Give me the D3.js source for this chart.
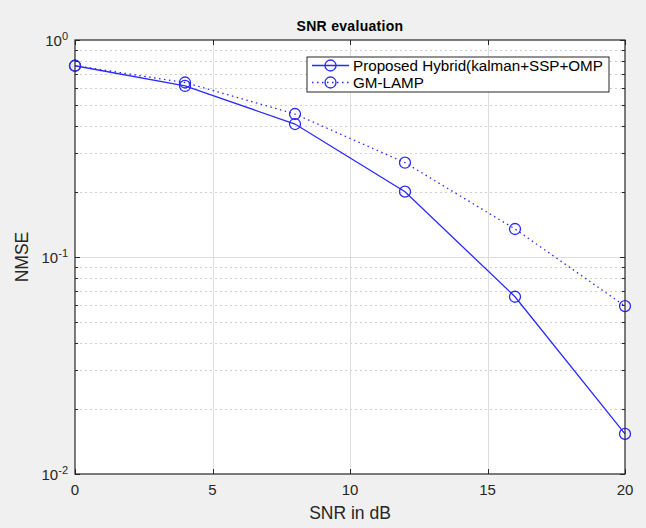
<!DOCTYPE html>
<html>
<head>
<meta charset="utf-8">
<script src="https://cdn.jsdelivr.net/npm/d3@7"></script>
<style>
  body { margin: 0; background: #f0f0f0; }
  svg { display: block; font-family: "Liberation Sans", Arial, Helvetica, sans-serif; }
</style>
</head>
<body>
<div id="chart"></div>
<script>
// data
const snr = [0, 4, 8, 12, 16, 20];
const hybrid = [0.761, 0.614, 0.410, 0.200, 0.0656, 0.0153];
const gmLamp = [0.761, 0.637, 0.456, 0.272, 0.1346, 0.0594];
const seriesNames = ['Proposed Hybrid(kalman+SSP+OMP', 'GM-LAMP'];
const xTicks = [0, 5, 10, 15, 20];
const yDecades = [-2, -1, 0];

const width = 646, height = 528;
const margin = { left: 75, right: 21, top: 40, bottom: 54 };

const svg = d3.select('#chart').append('svg')
    .attr('width', width)
    .attr('height', height);

svg.append('rect').attr('width', width).attr('height', height).attr('fill', '#f0f0f0');

const x = d3.scaleLinear().domain([0, 20]).range([margin.left, width - margin.right]);
const y = d3.scaleLog().domain([0.01, 1]).range([height - margin.bottom, margin.top]);

const x0 = x.range()[0], x1 = x.range()[1];
const y0 = y.range()[0], y1 = y.range()[1];

svg.append('rect')
    .attr('x', x0).attr('y', y1)
    .attr('width', x1 - x0).attr('height', y0 - y1)
    .attr('fill', '#fff');

// minor values for log axis
const minor = [];
for (let d = -2; d < 0; d++) {
    for (let m = 2; m <= 9; m++) minor.push(m * Math.pow(10, d));
}
const major = yDecades.map(d => Math.pow(10, d));

const grid = svg.append('g');
grid.selectAll('.minor').data(minor).join('line')
    .attr('x1', x0).attr('x2', x1)
    .attr('y1', d => Math.round(y(d)) + 0.5).attr('y2', d => Math.round(y(d)) + 0.5)
    .attr('stroke', '#cfcfcf').attr('stroke-dasharray', '2,3');
grid.selectAll('.major').data(major.slice(1, -1)).join('line')
    .attr('x1', x0).attr('x2', x1)
    .attr('y1', d => Math.round(y(d)) + 0.5).attr('y2', d => Math.round(y(d)) + 0.5)
    .attr('stroke', '#dedede');
grid.selectAll('.vx').data(xTicks.slice(1, -1)).join('line')
    .attr('x1', d => Math.round(x(d)) + 0.5).attr('x2', d => Math.round(x(d)) + 0.5)
    .attr('y1', y1).attr('y2', y0)
    .attr('stroke', '#dedede');

// series
const line = d3.line().x((d, i) => x(snr[i])).y(d => y(d));
const blue = '#2a2aff';

svg.append('path').datum(gmLamp)
    .attr('d', line).attr('fill', 'none')
    .attr('stroke', blue).attr('stroke-width', 1.3)
    .attr('stroke-dasharray', '1.5,3.5');
svg.append('path').datum(hybrid)
    .attr('d', line).attr('fill', 'none')
    .attr('stroke', blue).attr('stroke-width', 1.3);

[hybrid, gmLamp].forEach(s => {
    svg.append('g').selectAll('circle').data(s).join('circle')
        .attr('cx', (d, i) => x(snr[i])).attr('cy', d => y(d))
        .attr('r', 5.5).attr('fill', 'none')
        .attr('stroke', blue).attr('stroke-width', 1.3);
});

// axes box and ticks
const axisColor = '#262626';
const ticks = svg.append('g').attr('stroke', axisColor);
xTicks.forEach(t => {
    const px = Math.round(x(t)) + 0.5;
    ticks.append('line').attr('x1', px).attr('x2', px).attr('y1', y0).attr('y2', y0 - 5);
    ticks.append('line').attr('x1', px).attr('x2', px).attr('y1', y1).attr('y2', y1 + 5);
});
major.forEach(t => {
    const py = Math.round(y(t)) + 0.5;
    ticks.append('line').attr('x1', x0).attr('x2', x0 + 5).attr('y1', py).attr('y2', py);
    ticks.append('line').attr('x1', x1).attr('x2', x1 - 5).attr('y1', py).attr('y2', py);
});
minor.forEach(t => {
    const py = Math.round(y(t)) + 0.5;
    ticks.append('line').attr('x1', x0).attr('x2', x0 + 3).attr('y1', py).attr('y2', py);
    ticks.append('line').attr('x1', x1).attr('x2', x1 - 3).attr('y1', py).attr('y2', py);
});

svg.append('rect')
    .attr('x', x0).attr('y', y1)
    .attr('width', x1 - x0).attr('height', y0 - y1)
    .attr('fill', 'none').attr('stroke', axisColor).attr('stroke-width', 1.2);

// tick labels
svg.append('g').selectAll('text').data(xTicks).join('text')
    .attr('x', d => x(d)).attr('y', y0 + 21)
    .attr('text-anchor', 'middle')
    .attr('font-size', 15).attr('fill', axisColor)
    .text(d => d);

const yl = svg.append('g').selectAll('text').data(yDecades).join('text')
    .attr('x', x0 - 7).attr('y', d => y(Math.pow(10, d)) + 6)
    .attr('text-anchor', 'end')
    .attr('font-size', 15).attr('fill', axisColor);
yl.append('tspan').text('10');
yl.append('tspan').attr('dy', -6).attr('font-size', 11).text(d => d);

// titles
svg.append('text')
    .attr('x', (x0 + x1) / 2).attr('y', 31)
    .attr('text-anchor', 'middle')
    .attr('font-size', 14).attr('font-weight', 'bold').attr('fill', '#000')
    .attr('letter-spacing', 0.3)
    .text('SNR evaluation');

svg.append('text')
    .attr('x', (x0 + x1) / 2).attr('y', y0 + 45)
    .attr('text-anchor', 'middle')
    .attr('font-size', 17.5).attr('fill', axisColor)
    .text('SNR in dB');

svg.append('text')
    .attr('transform', `translate(28,${(y0 + y1) / 2}) rotate(-90)`)
    .attr('text-anchor', 'middle')
    .attr('font-size', 17.5).attr('fill', axisColor)
    .text('NMSE');

// legend
const lg = svg.append('g').attr('transform', 'translate(307,57)');
lg.append('rect').attr('width', 302).attr('height', 35)
    .attr('fill', '#fff').attr('stroke', axisColor).attr('stroke-width', 1);
seriesNames.forEach((name, i) => {
    const ly = 8.5 + i * 17;
    lg.append('line').attr('x1', 5).attr('x2', 42).attr('y1', ly).attr('y2', ly)
        .attr('stroke', blue).attr('stroke-width', 1.3)
        .attr('stroke-dasharray', i === 1 ? '1.5,3.5' : null);
    lg.append('circle').attr('cx', 23.5).attr('cy', ly).attr('r', 5.5)
        .attr('fill', 'none').attr('stroke', blue).attr('stroke-width', 1.3);
    lg.append('text').attr('x', 46).attr('y', ly + 5.5)
        .attr('font-size', 15.2).attr('fill', '#000')
        .text(name);
});
</script>
</body>
</html>
